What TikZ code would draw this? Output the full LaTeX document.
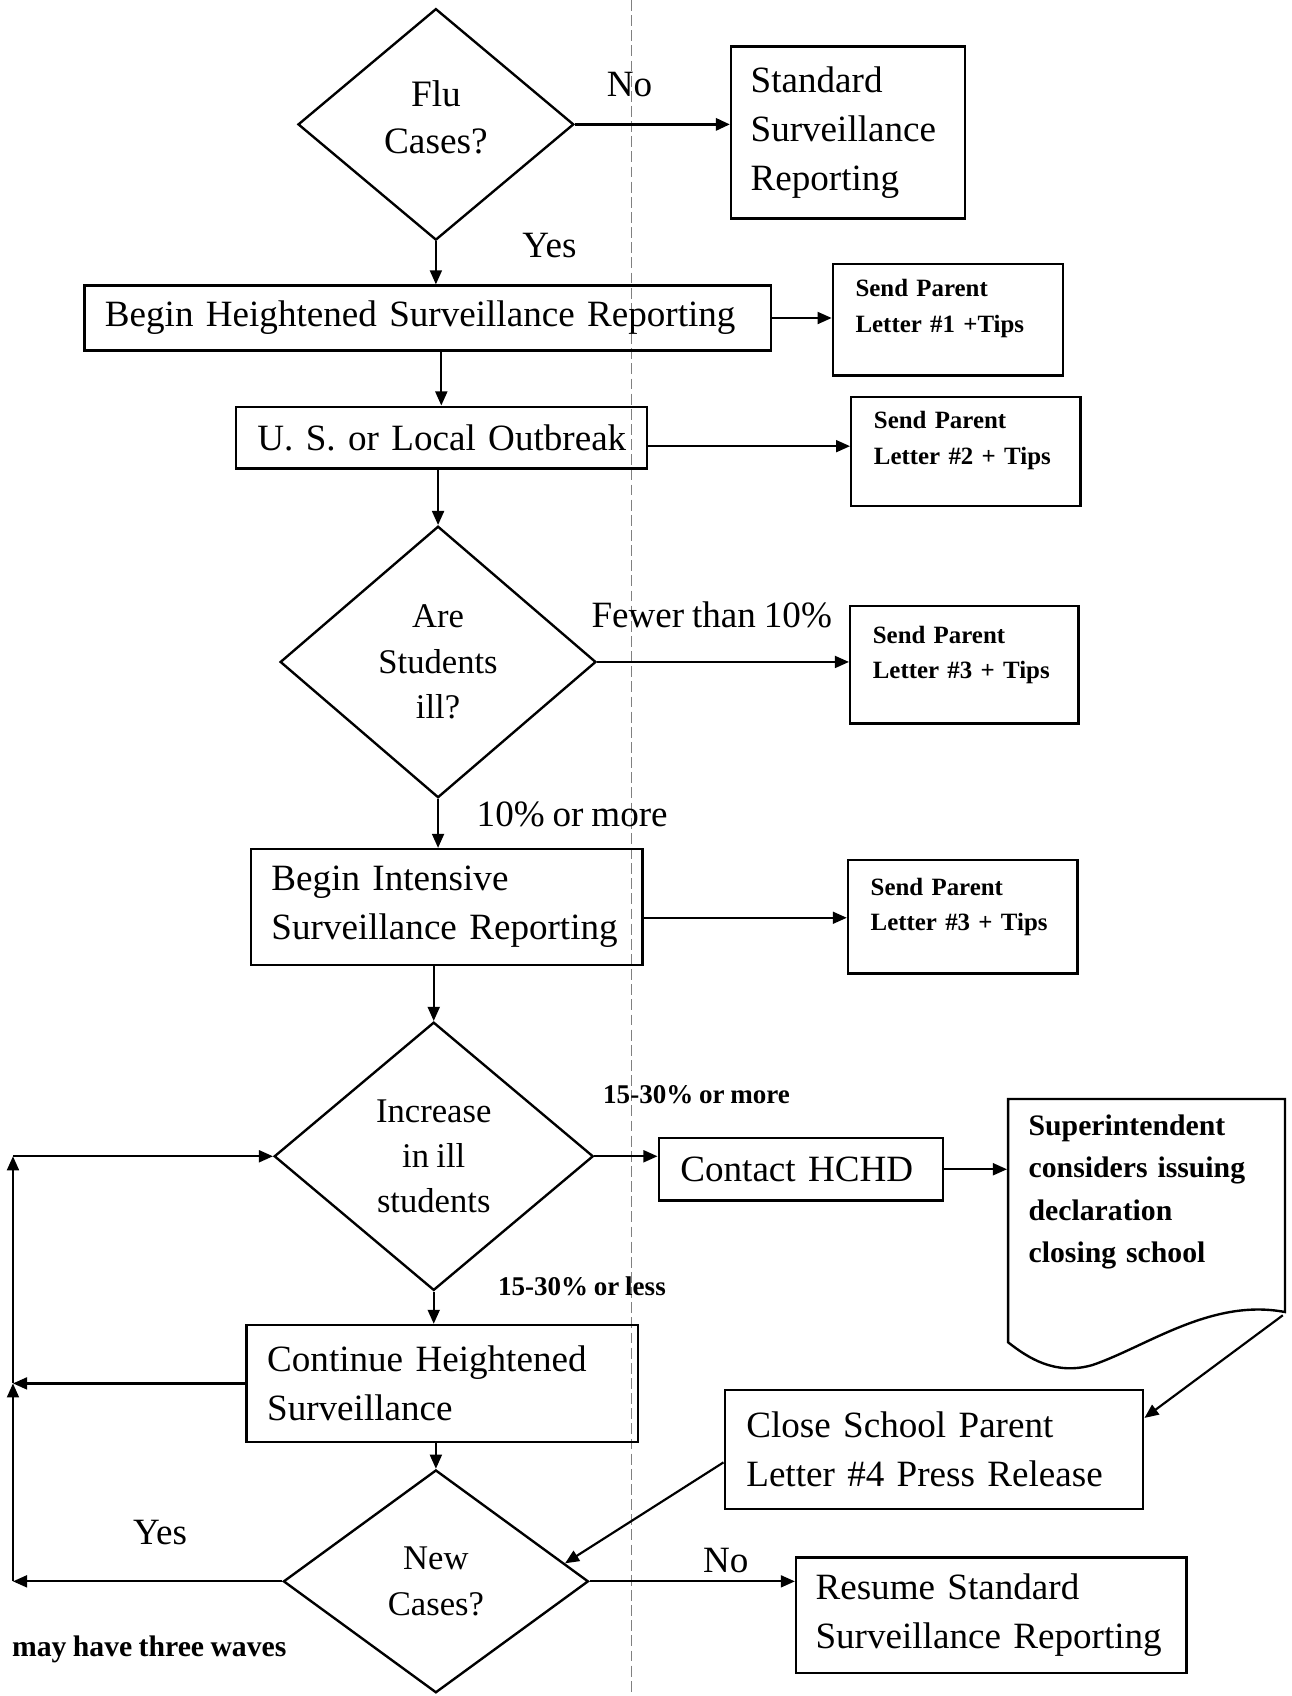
\documentclass[tikz,border=0pt]{standalone}
\usepackage{fontspec}
\setmainfont{Liberation Serif}[WordSpace=0.85]
\usetikzlibrary{shapes.geometric,arrows.meta,calc}
\begin{document}
\begin{tikzpicture}[x=1pt,y=-1pt,
  line width=2pt,
  >={Triangle[length=13pt,width=11pt]},
  box/.style={draw,line width=2.2pt,rectangle,inner ysep=0pt,align=left},
  dia/.style={draw,line width=2.2pt,diamond,inner sep=0pt,align=center},
  big/.style={font=\fontsize{34.3}{45}\selectfont},
  mid/.style={font=\fontsize{32}{42}\selectfont},
  small/.style={font=\fontsize{23}{33}\selectfont\bfseries},
  lblsmall/.style={font=\fontsize{25}{30}\selectfont\bfseries},
  docfont/.style={font=\fontsize{27.5}{39}\selectfont\bfseries},
  conn/.style={->,line width=2pt},
  lbl/.style={inner sep=0pt},
]
\fill[white] (0,0) rectangle (1194,1568);
\useasboundingbox (0,0) rectangle (1194,1568);

% fold line of the scan
\draw[gray,line width=0.8pt,dash pattern=on 10pt off 4pt] (584,0) -- (584,1568);

% decisions
\node[dia,font=\fontsize{34.5}{43}\selectfont,minimum width=255pt,minimum height=214pt,text depth=14pt] (flu) at (403,115) {Flu\\Cases?};
\node[dia,mid,minimum width=292pt,minimum height=251pt] (asi) at (405,612) {Are\\Students\\ill?};
\node[dia,mid,minimum width=295pt,minimum height=248pt] (inc) at (401,1069) {Increase\\in ill\\students};
\node[dia,mid,minimum width=282pt,minimum height=206pt] (nc) at (403,1462) {New\\Cases?};

% process boxes
\node[box,big,text width=180pt,inner xsep=18pt,minimum height=159pt] (std) at (784,122.5) {Standard\\Surveillance\\Reporting};
\node[box,big,text width=597pt,inner xsep=19pt,minimum height=60pt] (bh) at (395.5,294) {\mbox{Begin Heightened Surveillance Reporting}};
\node[box,small,text width=171pt,inner xsep=21pt,minimum height=103pt] (s1) at (876.5,295.5) {Send Parent\\Letter \#1 +Tips\\[-8pt]\mbox{}};
\node[box,big,text width=340pt,inner xsep=20pt,minimum height=57pt] (us) at (408,404.5) {\mbox{U. S. or Local Outbreak}};
\node[box,small,text width=170pt,inner xsep=21pt,minimum height=101pt] (s2) at (893,417.5) {Send Parent\\Letter \#2 + Tips\\[-8pt]\mbox{}};
\node[box,small,text width=169pt,inner xsep=21pt,minimum height=109pt] (s3) at (891.5,614.5) {Send Parent\\Letter \#3 + Tips\\[-10pt]\mbox{}};
\node[box,big,text width=324pt,inner xsep=19pt,minimum height=107pt] (bi) at (413,838.5) {Begin Intensive\\\mbox{Surveillance Reporting}};
\node[box,small,text width=170pt,inner xsep=21pt,minimum height=105pt] (s4) at (890,847.5) {Send Parent\\Letter \#3 + Tips\\[-10pt]\mbox{}};
\node[box,big,text width=223pt,inner xsep=20pt,minimum height=58pt] (hchd) at (740.5,1081) {Contact HCHD};
\node[box,big,text width=347pt,inner xsep=20pt,minimum height=110pt] (close) at (863.5,1340) {Close School Parent\\\mbox{Letter \#4 Press Release}};
\node[box,big,text width=324pt,inner xsep=19pt,minimum height=108pt] (cont) at (409,1279) {Continue Heightened\\Surveillance};
\node[box,big,text width=325pt,inner xsep=18pt,minimum height=107pt] (res) at (916.5,1493.5) {Resume Standard\\\mbox{Surveillance Reporting}};

% document shape
\node[docfont,align=left,text width=218pt,inner xsep=19pt,inner ysep=0pt] (doc) at (1060,1102) {Superintendent\\\mbox{considers issuing}\\declaration\\closing school};
\draw[line width=2.2pt] (932,1016) -- (1188,1016) -- (1188,1213)
  .. controls (1120,1200) and (1060,1245) .. (1010,1262)
  .. controls (975,1272) and (950,1255) .. (932,1241) -- cycle;
\coordinate (docbr) at (1186,1216);

% loop corners
\coordinate (L1) at (12,1462);
\coordinate (L2) at (12,1279);
\coordinate (L3) at (12,1069);

% main flow
\draw[conn] (flu.south) -- (flu.south |- bh.north);
\draw[conn] (us.north |- bh.south) -- (us.north);
\draw[conn] (asi.north |- us.south) -- (asi.north);
\draw[conn] (asi.south) -- (asi.south |- bi.north);
\draw[conn] (inc.north |- bi.south) -- (inc.north);
\draw[conn] (inc.south) -- (inc.south |- cont.north);
\draw[conn] (nc.north |- cont.south) -- (nc.north);

% side branches
\draw[->,line width=3pt] (flu.east) -- (flu.east -| std.west);
\draw[conn] (bh.east) -- (bh.east -| s1.west);
\draw[conn] ([yshift=-8pt]us.east) -- ([yshift=-8pt]us.east -| s2.west);
\draw[conn] (asi.east) -- (asi.east -| s3.west);
\draw[conn] ([yshift=-10pt]bi.east) -- ([yshift=-10pt]bi.east -| s4.west);
\draw[conn] (inc.east) -- (inc.east -| hchd.west);
\draw[conn] (hchd.east) -- (hchd.east -| doc.west);
\draw[conn] (docbr) -- ([yshift=-27pt]close.north east);
\draw[conn] ([yshift=-12pt]close.west) -- ($(nc.north)!0.84!(nc.east)$);
\draw[conn] (nc.east) -- (nc.east -| res.west);

% loop back
\draw[conn] (nc.west) -- (L1);
\draw[conn] (cont.west) -- (L2);
\draw[conn] (L1) -- (L2);
\draw[conn] (L2) -- (L3);
\draw[conn] (L3) -- (inc.west);

% labels
\node[lbl,big] (lno1) at (582,78) {No};
\node[lbl,big] (lyes1) at (508,227) {Yes};
\node[lbl,big] (lfew) at (658,568) {Fewer than 10\%};
\node[lbl,big] (lmore) at (529,753) {10\% or more};
\node[lbl,lblsmall] (l1530m) at (644,1012) {15-30\% or more};
\node[lbl,lblsmall] (l1530l) at (538,1189) {15-30\% or less};
\node[lbl,big] (lno2) at (671,1443) {No};
\node[lbl,big] (lyes2) at (148,1417) {Yes};
\node[lbl,font=\fontsize{27.5}{30}\selectfont\bfseries] (lwaves) at (138,1525) {may have three waves};
\end{tikzpicture}
\end{document}
